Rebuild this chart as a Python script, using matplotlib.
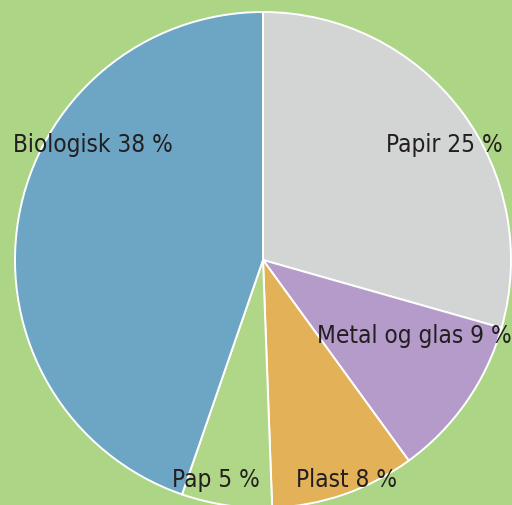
import matplotlib.pyplot as plt

# waste fractions (percent, as printed on the chart)
labels = ['Papir', 'Metal og glas', 'Plast', 'Pap', 'Biologisk']
shares = [25, 9, 8, 5, 38]
colors = ['#d3d5d4', '#b59bca', '#e3b157', '#b0d788', '#6da6c4']
bg = '#acd585'

# label centre x and baseline y (pixel coords of the original picture)
label_pos = [(444, 152), (414, 343), (347, 487), (216, 487), (93, 152)]

fig = plt.figure(figsize=(5.12, 5.05), dpi=100, facecolor=bg)
ax = fig.add_axes([0, 0, 1, 1])
ax.set_facecolor(bg)

ax.pie(shares, colors=colors, startangle=90, counterclock=False,
       center=(263, -260), radius=248,
       wedgeprops=dict(edgecolor='white', linewidth=1.4))

for lab, val, (x, y) in zip(labels, shares, label_pos):
    ax.text(x, -y, '%s %d %%' % (lab, val), ha='center', va='baseline',
            fontsize=17.5, color='#231f20', family='DejaVu Sans',
            fontstretch='condensed')

ax.set_xlim(0, 512)
ax.set_ylim(-505, 0)
ax.set_aspect('equal')
ax.axis('off')

plt.savefig('out.png', facecolor=bg)
